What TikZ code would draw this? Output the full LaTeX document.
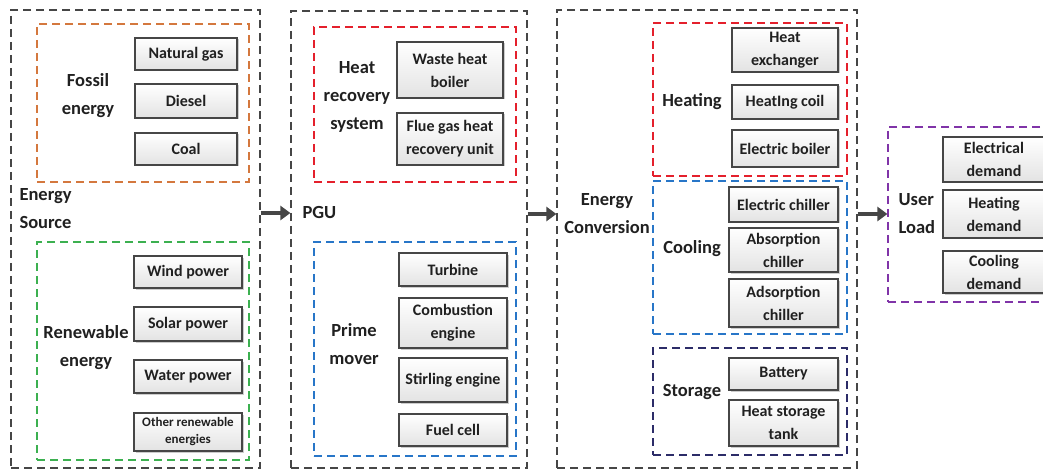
\documentclass[tikz,border=0pt]{standalone}
\usepackage{fontspec}
\setmainfont{Carlito}
\usetikzlibrary{arrows.meta,shadows}

\definecolor{framec}{RGB}{70,70,70}
\definecolor{fossilc}{RGB}{212,120,62}
\definecolor{renewc}{RGB}{60,176,80}
\definecolor{heatc}{RGB}{228,32,44}
\definecolor{primec}{RGB}{40,118,200}
\definecolor{storec}{RGB}{44,44,104}
\definecolor{loadc}{RGB}{128,52,168}
\definecolor{textc}{RGB}{32,32,32}

\begin{document}
\begin{tikzpicture}[x=1pt,y=-1pt,
    frame/.style={draw=framec,line width=1.2pt,dash pattern=on 8pt off 5pt,inner sep=0pt},
    group/.style={draw=#1,line width=1.2pt,dash pattern=on 8pt off 5pt,inner sep=0pt},
    part/.style={draw=framec,line width=1.1pt,top color=white,bottom color=gray!22,
        minimum width=#1pt,align=center,inner sep=1pt,text=textc,
        font=\fontsize{16}{23}\selectfont\bfseries,
        drop shadow={shadow xshift=1.5pt,shadow yshift=-1.5pt,fill=black,opacity=0.2}},
    lbl/.style={align=center,text=textc,font=\fontsize{18.5}{28}\selectfont\bfseries},
    flow/.style={draw=framec,line width=4.5pt,-{Triangle[length=10pt,width=14pt]}}]
\useasboundingbox (0,0) rectangle (1043,470);

% outer frames
\node [frame,minimum width=249pt,minimum height=458pt] (src) at (135.5,239) {};
\node [frame,minimum width=236pt,minimum height=457pt] (pgu) at (409,239.5) {};
\node [frame,minimum width=300pt,minimum height=458pt] (conv) at (707,239) {};

% energy source
\node [group=fossilc,minimum width=212pt,minimum height=158pt] (fossil) at (143,103) {};
\node [group=renewc,minimum width=212pt,minimum height=218pt] (renew) at (143,351) {};
\node [lbl] (fossillbl) at (88,96) {Fossil\\energy};
\node [lbl,align=left,anchor=west] (srclbl) at (16,209) {Energy\\Source};
\node [lbl] (renewlbl) at (86,348) {Renewable\\energy};
\node [part=102,minimum height=32pt] (natgas) at (186,54) {Natural gas};
\node [part=102,minimum height=34pt] (diesel) at (186,101) {Diesel};
\node [part=102,minimum height=32pt] (coal) at (186,149) {Coal};
\node [part=108,minimum height=32pt] (wind) at (188,272) {Wind power};
\node [part=108,minimum height=34pt] (solar) at (188,324) {Solar power};
\node [part=108,minimum height=33pt] (water) at (188,376.5) {Water power};
\node [part=108,minimum height=38pt,font=\fontsize{13}{17}\selectfont\bfseries] (other) at (188,432) {Other renewable\\energies};

% PGU
\node [group=heatc,minimum width=202pt,minimum height=155pt] (heatrec) at (415,104.5) {};
\node [group=primec,minimum width=202pt,minimum height=214pt] (prime) at (415,349) {};
\node [lbl] (heatreclbl) at (357,97) {Heat\\recovery\\system};
\node [lbl,anchor=west] (pgulbl) at (299,213) {PGU};
\node [lbl] (primelbl) at (354,344) {Prime\\mover};
\node [part=106,minimum height=56pt] (wasteheat) at (450,70) {Waste heat\\boiler};
\node [part=106,minimum height=52pt] (fluegas) at (450,139) {Flue gas heat\\recovery unit};
\node [part=108,minimum height=33pt] (turbine) at (453,269.5) {Turbine};
\node [part=108,minimum height=50pt] (combustion) at (453,323) {Combustion\\engine};
\node [part=108,minimum height=44pt] (stirling) at (453,380) {Stirling engine};
\node [part=108,minimum height=32pt] (fuelcell) at (453,430) {Fuel cell};

% energy conversion
\node [group=heatc,minimum width=194pt,minimum height=153pt] (heating) at (750,99.5) {};
\node [group=primec,minimum width=194pt,minimum height=153pt] (cooling) at (750,257.5) {};
\node [group=storec,minimum width=194pt,minimum height=107pt] (storage) at (750,401.5) {};
\node [lbl] (convlbl) at (607,214) {Energy\\Conversion};
\node [lbl] (heatinglbl) at (692,102) {Heating};
\node [lbl] (coolinglbl) at (692,249) {Cooling};
\node [lbl] (storagelbl) at (692,392) {Storage};
\node [part=106,minimum height=44pt] (hex) at (785,50) {Heat\\exchanger};
\node [part=106,minimum height=34pt] (coil) at (785,102) {HeatIng coil};
\node [part=106,minimum height=37pt] (eboiler) at (785,148.5) {Electric boiler};
\node [part=109,minimum height=35pt] (echiller) at (783.5,204.5) {Electric chiller};
\node [part=109,minimum height=44pt] (abschiller) at (783.5,250) {Absorption\\chiller};
\node [part=109,minimum height=48pt] (adschiller) at (783.5,303) {Adsorption\\chiller};
\node [part=109,minimum height=32pt] (battery) at (783.5,374) {Battery};
\node [part=109,minimum height=46pt] (tank) at (783.5,423) {Heat storage\\tank};

% user load
\node [group=loadc,minimum width=164pt,minimum height=175pt] (load) at (970,214.5) {};
\node [lbl,align=left,anchor=west] (loadlbl) at (895,214) {User\\Load};
\node [part=102,minimum height=45pt] (elecdem) at (994,159.5) {Electrical\\demand};
\node [part=102,minimum height=48pt] (heatdem) at (994,214) {Heating\\demand};
\node [part=102,minimum height=42pt] (cooldem) at (994,272) {Cooling\\demand};

% flows
\draw [flow] (src.east |- pgulbl.west) -- (pgu.west |- pgulbl.west);
\draw [flow] (pgu.east |- convlbl.center) -- (conv.west |- convlbl.center);
\draw [flow] (conv.east |- loadlbl.west) -- (load.west |- loadlbl.west);
\end{tikzpicture}
\end{document}
